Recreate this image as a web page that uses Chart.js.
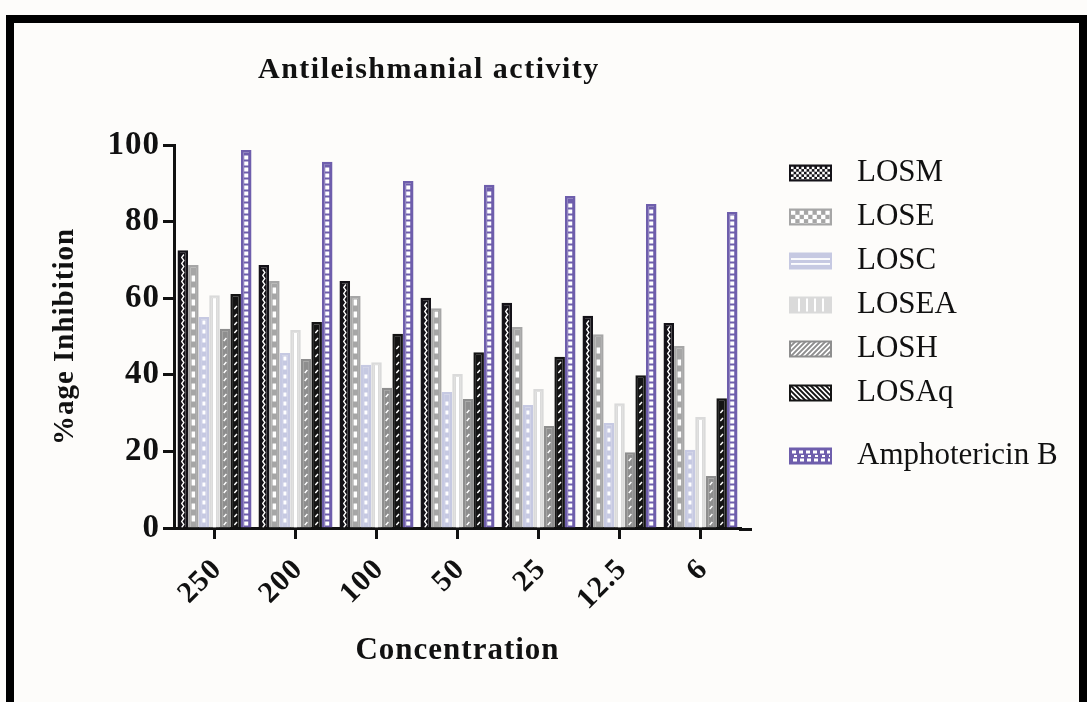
<!DOCTYPE html>
<html>
<head>
<meta charset="utf-8">
<script src="https://cdn.jsdelivr.net/npm/chart.js@4.4.1/dist/chart.umd.min.js"></script>
<style>
  html, body { margin: 0; padding: 0; background: #fdfcfa; overflow: hidden; }
  #wrap { position: relative; width: 1087px; height: 702px; }
  #chart { position: absolute; left: 0; top: 0; }
  #frame { position: absolute; left: 6px; top: 15px; width: 1081px; height: 720px; box-sizing: border-box;
           border: 8px solid #000; border-bottom: none; pointer-events: none; }
</style>
</head>
<body>
<div id="wrap">
  <canvas id="chart" width="1087" height="702"></canvas>
  <div id="frame"></div>
</div>
<script>
// % inhibition at each concentration
const concentrations = ["250", "200", "100", "50", "25", "12.5", "6"];
const losm  = [72.5, 68.7, 64.5, 60.1, 58.8, 55.4, 53.5];
const lose  = [68.7, 64.5, 60.6, 57.4, 52.5, 50.6, 47.5];
const losc  = [55.1, 45.7, 42.6, 35.5, 32.1, 27.4, 20.4];
const losea = [60.8, 51.7, 43.3, 40.2, 36.3, 32.6, 29.0];
const losh  = [52.0, 44.1, 36.6, 33.7, 26.6, 19.8, 13.6];
const losaq = [61.1, 53.8, 50.7, 45.9, 44.7, 39.9, 33.9];
const amphotericin = [98.7, 95.6, 90.6, 89.6, 86.7, 84.6, 82.5];
const yTicks = [0, 20, 40, 60, 80, 100];

const serif = "'Liberation Serif', 'Times New Roman', serif";
const ink = "#111";

// white marks running up the middle of each bar
function drawMark(ctx, m, cx, top, bottom) {
  ctx.fillStyle = ctx.strokeStyle = "#fff";
  if (m.type === "zigzag") {
    ctx.lineWidth = 1.3;
    ctx.beginPath();
    let k = 0;
    for (let yy = bottom; yy > top; yy -= 3, k++) {
      const xx = cx + (k % 2 ? 1.1 : -1.1);
      if (k === 0) ctx.moveTo(xx, yy); else ctx.lineTo(xx, yy);
    }
    ctx.stroke();
  } else if (m.type === "blocks") {
    for (let yy = bottom - m.gap; yy - m.h > top; yy -= m.h + m.gap) {
      ctx.fillRect(cx - m.w / 2, yy - m.h, m.w, m.h);
    }
  } else if (m.type === "line") {
    ctx.fillRect(cx - m.w / 2, top - 2, m.w, bottom - top + 2);
  } else if (m.type === "slash") {
    ctx.lineWidth = 1.4;
    ctx.beginPath();
    for (let yy = bottom - 4; yy - 3 > top; yy -= m.gap) {
      ctx.moveTo(cx - 1.3, yy + 1.5);
      ctx.lineTo(cx + 1.3, yy - 1.5);
    }
    ctx.stroke();
  }
}

// legend swatch fills
function drawSwatch(ctx, ds, x, y, w, h) {
  ctx.save();
  ctx.fillStyle = ds.borderColor;
  ctx.fillRect(x, y, w, h);
  ctx.beginPath();
  ctx.rect(x + 2, y + 2, w - 4, h - 4);
  ctx.clip();
  ctx.fillStyle = ctx.strokeStyle = "#fff";
  const k = ds.swatch;
  if (k === "checkFine" || k === "checkCoarse") {
    const s = k === "checkFine" ? 2.6 : 4.3;
    for (let r = 0; r * s < h; r++) {
      for (let c = 0; c * s < w; c++) {
        if ((r + c) % 2 === 0) ctx.fillRect(x + 2 + c * s, y + 2 + r * s, s, s);
      }
    }
  } else if (k === "hlines") {
    ctx.fillRect(x, y + h * 0.33, w, 1.8);
    ctx.fillRect(x, y + h * 0.62, w, 1.8);
  } else if (k === "vlines") {
    for (let xx = x + 9; xx < x + w - 4; xx += 8) ctx.fillRect(xx, y, 2, h);
  } else if (k === "fwd" || k === "back") {
    ctx.lineWidth = 1.6;
    ctx.beginPath();
    for (let xx = x - h; xx < x + w + h; xx += 5) {
      if (k === "fwd") { ctx.moveTo(xx, y + h); ctx.lineTo(xx + h, y); }
      else { ctx.moveTo(xx, y); ctx.lineTo(xx + h, y + h); }
    }
    ctx.stroke();
  } else if (k === "maze") {
    for (let xx = x + 3; xx < x + w - 2; xx += 7) {
      ctx.fillRect(xx, y + 3, 4, 3);
      ctx.fillRect(xx + 2, y + h / 2 - 1, 3, 2);
      ctx.fillRect(xx + 1, y + h - 6, 4, 3);
    }
  }
  ctx.restore();
}

const barMarks = {
  id: "barMarks",
  afterDatasetsDraw(chart) {
    const ctx = chart.ctx;
    chart.data.datasets.forEach((ds, i) => {
      chart.getDatasetMeta(i).data.forEach(bar => {
        const p = bar.getProps(["x", "y", "base", "width"], true);
        const top = Math.min(p.y, p.base) + 3;
        const bottom = Math.max(p.y, p.base);
        ctx.save();
        ctx.beginPath();
        ctx.rect(p.x - p.width / 2 + 2, top, p.width - 4, bottom - top);
        ctx.clip();
        drawMark(ctx, ds.mark, p.x, top, bottom);
        ctx.restore();
      });
    });
  }
};

const sideLegend = {
  id: "sideLegend",
  beforeDraw(chart) {
    chart.ctx.letterSpacing = "1px";
  },
  afterDraw(chart, args, o) {
    const ctx = chart.ctx;
    const area = chart.chartArea;
    ctx.save();
    // x axis line runs a little past the last group
    ctx.strokeStyle = ink;
    ctx.lineWidth = 3;
    ctx.beginPath();
    ctx.moveTo(area.right - 2, area.bottom + 1.5);
    ctx.lineTo(area.right + 11, area.bottom + 1.5);
    ctx.stroke();

    ctx.letterSpacing = "1.5px";
    ctx.fillStyle = ink;
    ctx.font = "bold 30px " + serif;
    ctx.textBaseline = "alphabetic";
    ctx.textAlign = "left";
    ctx.fillText(o.title, o.titleX, o.titleY);

    ctx.letterSpacing = "0px";
    ctx.font = "31px " + serif;
    ctx.textBaseline = "middle";
    let yy = o.top;
    chart.data.datasets.forEach(ds => {
      if (ds.control) yy += o.extraGap;
      drawSwatch(ctx, ds, o.boxX, yy - o.boxH / 2, o.boxW, o.boxH);
      ctx.fillStyle = ink;
      ctx.fillText(ds.label, o.textX, yy);
      yy += o.rowGap;
    });
    ctx.restore();
  }
};

function series(label, data, color, mark, swatch, extra) {
  return Object.assign({
    label, data,
    backgroundColor: color,
    borderColor: color,
    borderWidth: 2.5,
    mark, swatch
  }, extra || {});
}

new Chart(document.getElementById("chart"), {
  type: "bar",
  data: {
    labels: concentrations,
    datasets: [
      series("LOSM", losm, "#141218", { type: "zigzag" }, "checkFine"),
      series("LOSE", lose, "#a6a6a6", { type: "blocks", w: 3.5, h: 6, gap: 6 }, "checkCoarse"),
      series("LOSC", losc, "#c6c9e2", { type: "blocks", w: 3, h: 4, gap: 5 }, "hlines"),
      series("LOSEA", losea, "#dadada", { type: "line", w: 3 }, "vlines"),
      series("LOSH", losh, "#8e8e8e", { type: "slash", gap: 8 }, "fwd"),
      series("LOSAq", losaq, "#141414", { type: "slash", gap: 8 }, "back"),
      series("Amphotericin B", amphotericin, "#6e5eac", { type: "blocks", w: 4, h: 4, gap: 2 }, "maze", { control: true })
    ]
  },
  options: {
    responsive: false,
    animation: false,
    devicePixelRatio: 1,
    events: [],
    categoryPercentage: 0.914,
    barPercentage: 1.0,
    layout: { padding: { top: 145, right: 346, left: 0, bottom: 0 } },
    plugins: {
      legend: { display: false },
      tooltip: { enabled: false },
      sideLegend: {
        title: "Antileishmanial activity",
        titleX: 258, titleY: 78,
        top: 173, rowGap: 44, extraGap: 19,
        boxX: 789, boxW: 43, boxH: 17, textX: 857
      }
    },
    scales: {
      x: {
        afterFit(scale) { scale.height = 174; },
        border: { display: true, color: ink, width: 3 },
        grid: { offset: false, drawOnChartArea: false, drawTicks: true, tickLength: 11, tickWidth: 3, tickColor: ink, color: ink },
        ticks: {
          color: ink, maxRotation: 45, minRotation: 45, padding: 13, labelOffset: 3,
          font: { family: serif, size: 30, weight: "bold" }
        },
        title: {
          display: true, text: "Concentration", color: ink,
          font: { family: serif, size: 31, weight: "bold" },
          padding: { top: 0, bottom: 32 }
        }
      },
      y: {
        min: 0, max: 100,
        afterFit(scale) { scale.width = 174; },
        afterBuildTicks(scale) { scale.ticks = yTicks.map(v => ({ value: v })); },
        border: { display: true, color: ink, width: 3 },
        grid: { drawOnChartArea: false, drawTicks: true, tickLength: 11, tickWidth: 3, tickColor: ink, color: ink },
        ticks: {
          color: ink, padding: 3,
          font: { family: serif, size: 33, weight: "bold" }
        },
        title: {
          display: true, text: "%age Inhibition", color: ink,
          font: { family: serif, size: 29, weight: "bold" },
          padding: { top: 48, bottom: 0 }
        }
      }
    }
  },
  plugins: [barMarks, sideLegend]
});
</script>
</body>
</html>
